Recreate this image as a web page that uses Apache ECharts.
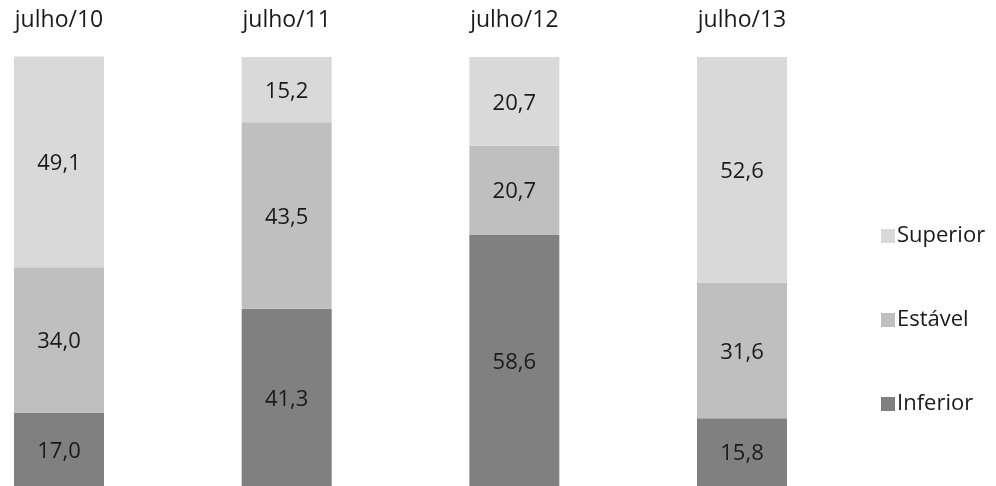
<!DOCTYPE html>
<html><head><meta charset="utf-8">
<script src="https://cdn.jsdelivr.net/npm/echarts@6/dist/echarts.min.js"></script>
<style>html,body{margin:0;padding:0;background:#fff}#c{width:996px;height:486px}</style>
</head><body><div id="c"></div>
<script>
const categories = ['julho/10','julho/11','julho/12','julho/13'];
const inferior = [17.0, 41.3, 58.6, 15.8];
const estavel = [34.0, 43.5, 20.7, 31.6];
const superior = [49.1, 15.2, 20.7, 52.6];
const seriesNames = ['Inferior','Estável','Superior'];
const colors = ['#808080','#bfbfbf','#d9d9d9'];
const FONT = 'Open Sans';
const fmt = v => v.toFixed(1).replace('.', ',');
const chart = echarts.init(document.getElementById('c'));
const mk = (name, data, color) => ({
  name, type: 'bar', stack: 'a', data, barWidth: 90, clip: false,
  itemStyle: { color },
  label: { show: true, position: 'inside', offset: [0, 2], color: '#1a1a1a', fontFamily: FONT, fontSize: 22,
    formatter: p => fmt(p.value) },
  emphasis: { disabled: true }
});
chart.setOption({
  animation: false,
  grid: { left: 59, right: 254, top: 57, bottom: 0, containLabel: false },
  xAxis: { type: 'category', data: categories, position: 'top', boundaryGap: false,
    axisLine: { show: false }, axisTick: { show: false },
    axisLabel: { color: '#1a1a1a', fontFamily: FONT, fontSize: 23, margin: 25 } },
  yAxis: { type: 'value', min: 0, max: 100, show: false, splitLine: { show: false } },
  legend: { orient: 'vertical', left: 876, top: 220, itemGap: 62, itemWidth: 14, itemHeight: 14,
    icon: 'rect', data: ['Superior','Estável','Inferior'],
    textStyle: { color: '#1a1a1a', fontFamily: FONT, fontSize: 22, padding: [0,0,0,-3] } },
  series: [mk(seriesNames[0], inferior, colors[0]), mk(seriesNames[1], estavel, colors[1]), mk(seriesNames[2], superior, colors[2])]
});
</script></body></html>
